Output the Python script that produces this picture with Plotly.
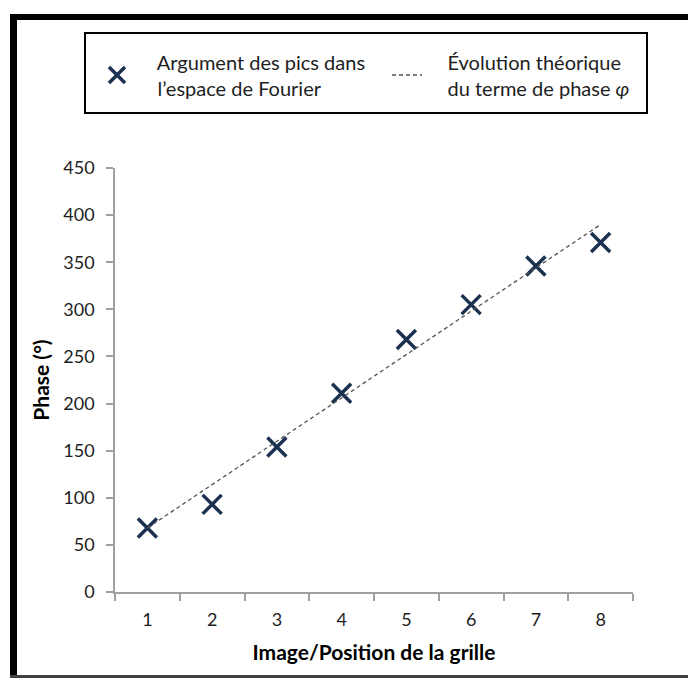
import plotly.graph_objects as go

# data
positions = ["1", "2", "3", "4", "5", "6", "7", "8"]
phase_measured = [68, 93, 154, 211, 268, 305, 346, 371]
phase_theory = [68, 114, 160, 206, 252, 298, 344, 390]
y_ticks = [0, 50, 100, 150, 200, 250, 300, 350, 400, 450]

W, H = 688, 678
L, R, T, B = 115, 55, 168, 86
pw, ph = W - L - R, H - T - B

def px(x):
    return (x - L) / pw

def py(y):
    return (H - B - y) / ph

FONT = "Lato"
NAVY = "#1B3150"
TXT = "#1e1e1e"
PAD = "\u00a0" * 4  # extra room between legend symbol and text

fig = go.Figure()
fig.add_trace(go.Scatter(
    x=positions, y=phase_measured,
    mode="markers",
    name=PAD + "Argument des pics dans<br>" + PAD + "l\u2019espace de Fourier",
    marker=dict(symbol="x-thin", size=19, line=dict(color=NAVY, width=3.5), color=NAVY),
))
fig.add_trace(go.Scatter(
    x=positions, y=phase_theory,
    mode="lines",
    name=PAD + "\u00c9volution th\u00e9orique<br>" + PAD + "du terme de phase <i>\u03c6</i>",
    line=dict(color="#555555", width=1.3, dash="4px,3px"),
))

fig.update_layout(
    width=W, height=H,
    margin=dict(l=L, r=R, t=T, b=B),
    plot_bgcolor="white", paper_bgcolor="white",
    font=dict(family=FONT, size=18, color=TXT),
    showlegend=True,
    legend=dict(
        orientation="h",
        x=px(97), y=py(75), xanchor="left", yanchor="middle",
        borderwidth=0, bgcolor="rgba(0,0,0,0)",
        font=dict(family=FONT, size=20, color=TXT),
        entrywidth=245, entrywidthmode="pixels",
        itemwidth=30,
        tracegroupgap=0,
    ),
)

# legend box
fig.add_shape(type="rect", xref="paper", yref="paper",
              x0=px(85), x1=px(647), y0=py(33), y1=py(113),
              line=dict(color="black", width=2), fillcolor="rgba(0,0,0,0)")

fig.update_xaxes(
    type="category", range=[-0.5, 7.5],
    showline=True, linecolor="#A0A0A0", linewidth=1.5,
    showgrid=False, zeroline=False,
    ticks="outside", tickson="boundaries", ticklen=7, tickcolor="#A0A0A0", tickwidth=1.5,
    ticklabelstandoff=11,
    tickfont=dict(family=FONT, size=18, color=TXT),
    title=dict(text="<b>Image/Position de la grille</b>", font=dict(family=FONT, size=21, color="black"), standoff=16),
)
fig.update_yaxes(
    range=[0, 450], tickvals=y_ticks,
    showline=True, linecolor="#A0A0A0", linewidth=1.5,
    showgrid=False, zeroline=False,
    ticks="outside", ticklen=7, tickcolor="#A0A0A0", tickwidth=1.5,
    ticklabelstandoff=8,
    tickfont=dict(family=FONT, size=18, color=TXT),
    title=dict(text="<b>Phase (\u00b0)</b>", font=dict(family=FONT, size=21, color="black"), standoff=8),
)

# picture frame around the chart
frame = [
    (10, 14, 17, H, "black"),       # left thick bar
    (10, 14, W, 20, "black"),       # top thick bar
    (10, 675, W, 678, "#404040"),   # bottom thin line
]
for x0, y0, x1, y1, c in frame:
    fig.add_shape(type="rect", xref="paper", yref="paper",
                  x0=px(x0), x1=px(x1), y0=py(y0), y1=py(y1),
                  fillcolor=c, line=dict(width=0), layer="above")

fig.write_html("out.html", config={"displayModeBar": False},
               post_script="document.body.style.margin='0';document.body.style.overflow='hidden';")
